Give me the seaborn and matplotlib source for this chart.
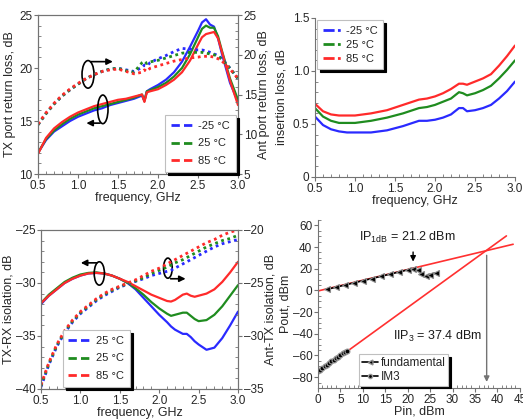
import numpy as np
import pandas as pd
import seaborn as sns
import matplotlib
matplotlib.use("Agg")
from matplotlib import pyplot as plt
from matplotlib.lines import Line2D
from matplotlib.patches import Ellipse
from matplotlib.ticker import MultipleLocator, FuncFormatter

# ---- top-left: return loss ----
freq_rl = [0.5, 0.6, 0.7, 0.8, 0.9, 1.0, 1.1, 1.2, 1.3, 1.4, 1.5, 1.6, 1.7, 1.8, 1.83, 1.86,
           1.9, 2.0, 2.1, 2.2, 2.3, 2.4, 2.5, 2.55, 2.6, 2.65, 2.7, 2.75, 2.8, 2.9, 3.0]
tx_rl_m25 = [12.0, 13.2, 14.0, 14.5, 15.0, 15.4, 15.7, 16.0, 16.2, 16.5, 16.7, 16.9, 17.1, 17.4, 16.9, 17.8,
             18.0, 18.4, 18.9, 19.6, 20.6, 22.0, 23.5, 24.3, 24.6, 24.1, 23.9, 22.8, 21.3, 18.6, 16.8]
tx_rl_25 = [12.0, 13.3, 14.1, 14.7, 15.2, 15.6, 15.9, 16.2, 16.4, 16.6, 16.8, 17.0, 17.2, 17.5, 16.9, 17.8,
            17.9, 18.2, 18.6, 19.2, 20.0, 21.3, 22.9, 23.7, 24.0, 23.8, 23.8, 23.0, 21.6, 19.0, 17.0]
tx_rl_85 = [11.9, 13.4, 14.3, 14.9, 15.4, 15.8, 16.1, 16.4, 16.6, 16.8, 17.0, 17.1, 17.3, 17.5, 16.8, 17.7,
            17.8, 18.0, 18.4, 18.9, 19.6, 20.7, 22.2, 22.9, 23.2, 23.3, 23.4, 22.8, 21.5, 18.8, 16.5]
ant_rl_m25 = [11.2, 12.6, 13.8, 14.8, 15.6, 16.3, 17.0, 17.5, 17.9, 18.2, 18.3, 18.1, 17.9, 18.4, 18.7, 18.6,
              19.0, 19.5, 19.9, 20.4, 20.8, 20.7, 20.6, 20.6, 20.5, 20.3, 20.1, 19.9, 19.5, 18.3, 17.0]
ant_rl_25 = [11.2, 12.6, 13.8, 14.8, 15.6, 16.3, 17.0, 17.5, 17.9, 18.2, 18.3, 18.0, 17.8, 19.0, 19.2, 18.9,
             19.1, 19.3, 19.6, 19.9, 20.2, 20.3, 20.3, 20.3, 20.2, 20.1, 20.0, 19.8, 19.4, 18.3, 17.0]
ant_rl_85 = [11.3, 12.7, 13.9, 14.9, 15.7, 16.4, 17.0, 17.5, 17.9, 18.1, 18.2, 17.9, 17.6, 17.8, 18.1, 17.9,
             18.3, 18.6, 18.9, 19.2, 19.4, 19.6, 19.7, 19.8, 19.8, 19.8, 19.7, 19.5, 19.2, 18.2, 17.0]

# ---- top-right: insertion loss ----
freq_il = [0.5, 0.6, 0.7, 0.8, 0.9, 1.0, 1.2, 1.4, 1.6, 1.8, 1.9, 2.0, 2.1, 2.2, 2.3, 2.35,
           2.4, 2.5, 2.6, 2.7, 2.8, 2.9, 3.0]
il_m25 = [0.57, 0.49, 0.45, 0.43, 0.42, 0.42, 0.42, 0.44, 0.48, 0.53, 0.53, 0.54, 0.56, 0.59, 0.65, 0.65,
          0.62, 0.63, 0.65, 0.68, 0.74, 0.81, 0.90]
il_25 = [0.65, 0.57, 0.53, 0.51, 0.51, 0.51, 0.53, 0.56, 0.60, 0.65, 0.66, 0.68, 0.71, 0.74, 0.80, 0.79,
         0.77, 0.79, 0.82, 0.86, 0.93, 1.01, 1.10]
il_85 = [0.69, 0.62, 0.59, 0.58, 0.58, 0.58, 0.60, 0.63, 0.68, 0.73, 0.74, 0.76, 0.79, 0.83, 0.88, 0.88,
         0.87, 0.90, 0.93, 0.97, 1.05, 1.14, 1.24]

# ---- bottom-left: isolation ----
freq_iso = [0.5, 0.6, 0.7, 0.8, 0.9, 1.0, 1.1, 1.2, 1.3, 1.4, 1.5, 1.6, 1.7, 1.8, 1.9, 2.0, 2.1, 2.15,
            2.2, 2.3, 2.35, 2.4, 2.45, 2.5, 2.6, 2.7, 2.8, 2.9, 3.0]
txrx_a = [-32.0, -31.2, -30.6, -30.0, -29.6, -29.3, -29.1, -29.05, -29.1, -29.3, -29.6, -30.0, -30.6, -31.4,
          -32.2, -33.0, -33.7, -34.1, -34.4, -34.8, -34.8, -35.1, -35.5, -35.8, -36.3, -36.1, -35.2, -34.0, -32.7]
txrx_b = [-31.9, -31.1, -30.5, -29.9, -29.5, -29.2, -29.05, -29.0, -29.1, -29.3, -29.6, -30.0, -30.5, -31.1,
          -31.8, -32.4, -32.9, -33.1, -33.0, -32.8, -32.8, -33.1, -33.4, -33.6, -33.5, -33.0, -32.2, -31.2, -30.2]
txrx_85 = [-31.9, -31.2, -30.6, -30.0, -29.6, -29.3, -29.1, -29.05, -29.1, -29.3, -29.6, -29.9, -30.3, -30.7,
           -31.1, -31.4, -31.7, -31.75, -31.6, -31.1, -31.0, -31.2, -31.3, -31.2, -31.0, -30.6, -29.9, -29.0, -28.0]
anttx_a = [-34.8, -32.7, -31.0, -29.7, -28.7, -27.9, -27.3, -26.7, -26.2, -25.8, -25.4, -25.1, -24.85, -24.6,
           -24.3, -24.1, -23.9, -23.8, -23.6, -23.2, -23.0, -22.8, -22.6, -22.4, -22.0, -21.6, -21.3, -21.1, -20.9]
anttx_b = [-34.7, -32.6, -30.9, -29.6, -28.6, -27.8, -27.2, -26.6, -26.1, -25.7, -25.35, -25.05, -24.8, -24.5,
           -24.1, -23.8, -23.5, -23.3, -23.1, -22.8, -22.6, -22.4, -22.2, -22.0, -21.6, -21.3, -21.0, -20.8, -20.5]
anttx_85 = [-34.6, -32.5, -30.8, -29.5, -28.5, -27.7, -27.1, -26.5, -26.0, -25.6, -25.3, -25.0, -24.7, -24.3,
            -23.9, -23.6, -23.2, -23.0, -22.8, -22.4, -22.2, -22.0, -21.8, -21.6, -21.2, -20.9, -20.5, -20.2, -20.0]

# ---- bottom-right: linearity ----
fund_pin = [2, 4, 6, 8, 10, 12, 14, 16, 18, 20, 21.2, 22.2, 23, 24, 25, 26.2]
fund_pout = [1.0, 3.0, 5.0, 7.0, 9.0, 11.0, 13.0, 15.0, 17.0, 19.0, 20.2, 19.0, 15.5, 13.0, 14.5, 16.0]
im3_pin = [0, 0.5, 1, 1.5, 2, 2.5, 3, 3.5, 4, 4.5, 5, 5.5, 6, 6.5]
im3_pout = [-74, -73, -71.5, -70, -68.5, -67, -65.5, -64, -62.5, -61, -59.5, -58, -56.5, -55.5]
fund_fit_pin = [0, 43.5]
fund_fit_pout = [-0.5, 42.6]
im3_fit_pin = [1, 42]
im3_fit_pout = [-72.7, 50.3]

labels_temp = ['-25 °C', '25 °C', '85 °C']
labels_iso = ['25 °C', '25 °C', '85 °C']
colors = ['#2a2aff', '#1f8c1f', '#ff2a2a']

sns.set_style("ticks")
plt.rcParams['font.family'] = ['Liberation Sans', 'DejaVu Sans']
plt.rcParams['mathtext.default'] = 'regular'
plt.rcParams['axes.edgecolor'] = '0.45'
plt.rcParams['xtick.color'] = '0.45'
plt.rcParams['ytick.color'] = '0.45'
plt.rcParams['xtick.labelcolor'] = '0.15'
plt.rcParams['ytick.labelcolor'] = '0.15'
plt.rcParams['axes.labelcolor'] = '0.15'

DOT = (0, (1, 1.3))
LS = 9
TS = 8.5

fig = plt.figure(figsize=(5.23, 4.19), dpi=100)
dash_fmt = FuncFormatter(lambda v, p: f'{v:g}'.replace('-', '\u2013'))


def style_ax(ax, xmaj, xmin, ymaj, ymin):
    ax.xaxis.set_major_locator(MultipleLocator(xmaj))
    ax.xaxis.set_minor_locator(MultipleLocator(xmin))
    ax.yaxis.set_major_locator(MultipleLocator(ymaj))
    ax.yaxis.set_minor_locator(MultipleLocator(ymin))
    ax.tick_params(which='major', direction='out', length=3, labelsize=TS, pad=1)
    ax.tick_params(which='minor', direction='in', length=2)


def make_legend(ax, labels, ls, loc, bbox, hl=2.2, sp=0.7):
    handles = [Line2D([], [], color=c, ls=ls, lw=2) for c in colors]
    leg = ax.legend(handles, labels, loc=loc, bbox_to_anchor=bbox, fontsize=8, frameon=True,
                    fancybox=False, edgecolor='0.75', framealpha=1, handlelength=hl,
                    handletextpad=0.3, borderpad=0.5, labelspacing=sp, borderaxespad=0.2,
                    shadow={'color': 'black', 'alpha': 1})
    leg.get_frame().set_linewidth(0.8)
    return leg


def loop_marker(ax, cx, cy, w, h, x0, y0, x1):
    ax.add_patch(Ellipse((cx, cy), w, h, fill=False, ec='black', lw=1.2, zorder=5))
    ax.annotate('', xy=(x1, y0), xytext=(x0, y0),
                arrowprops=dict(arrowstyle='-|>', color='black', lw=1.2, mutation_scale=9), zorder=5)


# panel 1
ax1 = fig.add_axes([0.0727, 0.5847, 0.3824, 0.3795])
ax1b = ax1.twinx()
for y, c in zip([tx_rl_m25, tx_rl_25, tx_rl_85], colors):
    sns.lineplot(x=freq_rl, y=y, ax=ax1, color=c, linewidth=1.6)
for y, c in zip([ant_rl_m25, ant_rl_25, ant_rl_85], colors):
    sns.lineplot(x=freq_rl, y=y, ax=ax1b, color=c, linewidth=2.0, linestyle=DOT)
ax1.set_xlim(0.5, 3.0)
ax1.set_ylim(10, 25)
ax1b.set_ylim(5, 25)
style_ax(ax1, 0.5, 0.1, 5, 1)
style_ax(ax1b, 0.5, 0.1, 5, 1)
ax1.set_xlabel('frequency, GHz', fontsize=LS, labelpad=0)
ax1.set_ylabel('TX port return loss, dB', fontsize=LS, labelpad=2)
ax1b.set_ylabel('Ant port return loss, dB', fontsize=LS, labelpad=1)
loop_marker(ax1, 1.125, 19.4, 0.15, 2.6, 1.125, 20.6, 1.47)
loop_marker(ax1, 1.31, 16.1, 0.13, 2.7, 1.31, 14.8, 1.07)
make_legend(ax1b, labels_temp, (0, (3, 1.5)), 'lower right', (1.0, 0.0))

# panel 2
ax2 = fig.add_axes([0.6023, 0.5776, 0.3824, 0.3795])
for y, c in zip([il_m25, il_25, il_85], colors):
    sns.lineplot(x=freq_il, y=y, ax=ax2, color=c, linewidth=1.6)
ax2.set_xlim(0.5, 3.0)
ax2.set_ylim(0, 1.5)
style_ax(ax2, 0.5, 0.1, 0.5, 0.1)
ax2.yaxis.set_major_formatter(FuncFormatter(lambda v, p: '0' if abs(v) < 1e-9 else f'{v:.1f}'))
ax2.set_xlabel('frequency, GHz', fontsize=LS, labelpad=0)
ax2.set_ylabel('insertion loss, dB', fontsize=LS, labelpad=4)
sns.despine(ax=ax2)
make_legend(ax2, labels_temp, (0, (4, 1.2, 1, 1.2)), 'upper left', (0.0, 1.0), hl=1.8, sp=0.35)

# panel 3
ax3 = fig.add_axes([0.0784, 0.0716, 0.3767, 0.3795])
ax3b = ax3.twinx()
for y, c in zip([txrx_a, txrx_b, txrx_85], colors):
    sns.lineplot(x=freq_iso, y=y, ax=ax3, color=c, linewidth=1.6)
for y, c in zip([anttx_a, anttx_b, anttx_85], colors):
    sns.lineplot(x=freq_iso, y=y, ax=ax3b, color=c, linewidth=2.0, linestyle=DOT)
ax3.set_xlim(0.5, 3.0)
ax3.set_ylim(-40, -25)
ax3b.set_ylim(-35, -20)
style_ax(ax3, 0.5, 0.1, 5, 1)
style_ax(ax3b, 0.5, 0.1, 5, 1)
ax3.yaxis.set_major_formatter(dash_fmt)
ax3b.yaxis.set_major_formatter(dash_fmt)
ax3.set_xlabel('frequency, GHz', fontsize=LS, labelpad=0)
ax3.set_ylabel('TX-RX isolation, dB', fontsize=LS, labelpad=1)
ax3b.set_ylabel('Ant-TX isolation, dB', fontsize=LS, labelpad=1)
loop_marker(ax3, 1.24, -29.1, 0.13, 2.2, 1.24, -28.1, 0.97)
loop_marker(ax3, 2.11, -28.6, 0.11, 1.9, 2.11, -29.6, 2.37)
make_legend(ax3b, labels_iso, (0, (3, 1.5)), 'lower left', (0.1, 0.0))

# panel 4
ax4 = fig.add_axes([0.608, 0.074, 0.386, 0.401])
sns.lineplot(x=fund_fit_pin, y=fund_fit_pout, ax=ax4, color='#ff3030', linewidth=1.2)
sns.lineplot(x=im3_fit_pin, y=im3_fit_pout, ax=ax4, color='#ff3030', linewidth=1.2)
sns.lineplot(x=fund_pin, y=fund_pout, ax=ax4, color='black', linewidth=1.2, marker='<',
             markersize=4, markeredgecolor='0.55', markeredgewidth=0.8)
sns.lineplot(x=im3_pin, y=im3_pout, ax=ax4, color='black', linewidth=1.2, marker='o',
             markersize=3.5, markeredgecolor='0.6', markeredgewidth=0.8)
ax4.set_xlim(0, 45)
ax4.set_ylim(-90, 65)
style_ax(ax4, 5, 1, 20, 5)
ax4.yaxis.set_major_formatter(dash_fmt)
ax4.set_xlabel('Pin, dBm', fontsize=LS, labelpad=0)
ax4.set_ylabel('Pout, dBm', fontsize=LS, labelpad=1)
sns.despine(ax=ax4)
ax4.annotate('', xy=(21.2, 24), xytext=(21.2, 38),
             arrowprops=dict(arrowstyle='-|>', color='black', lw=1.0, mutation_scale=8))
ax4.text(9.2, 48.5, 'IP$_{1dB}$ = 21.2 dBm', fontsize=LS, va='center', ha='left', color='0.1')
ax4.annotate('', xy=(37.6, -87), xytext=(37.6, 35),
             arrowprops=dict(arrowstyle='-|>', color='0.45', lw=1.0, mutation_scale=8))
ax4.text(36.6, -42, 'IIP$_3$ = 37.4 dBm', fontsize=LS, va='center', ha='right', color='0.1')
h4 = [Line2D([], [], color='black', marker='<', ms=3.5, mec='0.55', lw=1.2),
      Line2D([], [], color='black', marker='o', ms=3, mec='0.6', lw=1.2)]
leg4 = ax4.legend(h4, ['fundamental', 'IM3'], loc='lower left', bbox_to_anchor=(0.19, 0.0),
                  fontsize=8.5, frameon=True, fancybox=False, edgecolor='0.75', framealpha=1,
                  handlelength=1.4, handletextpad=0.2, borderpad=0.25, labelspacing=0.15,
                  borderaxespad=0.2, shadow={'color': 'black', 'alpha': 1})
leg4.get_frame().set_linewidth(0.8)

plt.savefig('out.png', dpi=100)
